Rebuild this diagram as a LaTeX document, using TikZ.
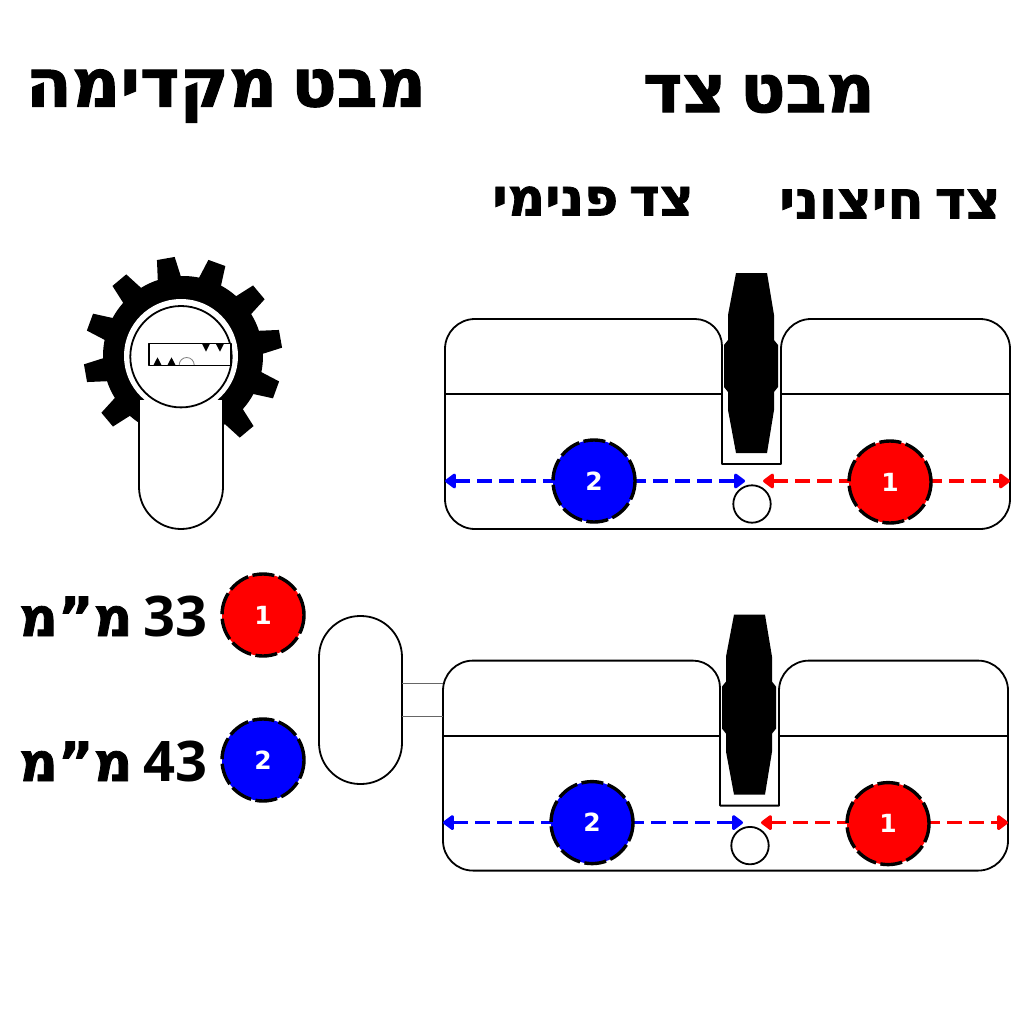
\documentclass[tikz,border=0pt]{standalone}
\usepackage{fontspec}
\usetikzlibrary{arrows.meta}
\TeXXeTstate=1
\newfontfamily\hebfont[Script=Hebrew,WordSpace=0.6,FakeBold=1.5]{DejaVu Sans Bold}
\newfontfamily\numfont{Open Sans Bold}
\newfontfamily\tagfont{DejaVu Sans Bold}

\tikzset{
  outline/.style={draw=black,line width=1.8pt,line join=round},
  size/.style={circle,minimum size=82pt,inner sep=0pt,text=white,font=\tagfont\fontsize{25}{25}\selectfont,draw=black,line width=3.4pt,dash pattern=on 22pt off 4.5pt},
  sizeone/.style={size,fill=red},
  sizetwo/.style={size,fill=blue},
  span/.style={line width=3.6pt,dash pattern=on 15pt off 7pt,{Triangle[round,length=12pt,width=17pt]}-{Triangle[round,length=12pt,width=17pt]}},
  title/.style={inner sep=0pt,text=black}
}

\newcommand{\lockside}{
%body
\draw[outline,fill=white] (445,394) -- (445,349) arc (180:270:30) -- (695,319) arc (270:360:27) -- (722,464) -- (781,464) -- (781,349) arc (180:270:30) -- (980,319) arc (270:360:30) -- (1010,499) arc (0:90:30) -- (475,529) arc (90:180:30) -- cycle;
\draw[outline] (445,394) -- (722,394);
\draw[outline] (781,394) -- (1010,394);
%cam
\fill[black,line join=round] (736,273) -- (767,273) -- (774,315) -- (774,340) -- (778,345) -- (778,387) -- (774,392) -- (774,410) -- (767,453) -- (736,453) -- (728,410) -- (728,392) -- (724,387) -- (724,345) -- (728,340) -- (728,315) -- cycle;
%pin
\draw[outline] (752,504) circle (18.7);
%ranges
\coordinate (bl) at (445,481);
\coordinate (br) at (745,481);
\coordinate (rl) at (763,481);
\coordinate (rr) at (1010,481);
\draw[span,blue] (bl) -- (br);
\draw[span,red] (rl) -- (rr);
\node[sizetwo] (two) at (594,481) {\raisebox{-2pt}{2}};
\node[sizeone] (one) at (890,482) {\raisebox{-2pt}{1}};
}

\begin{document}
\begin{tikzpicture}[x=1pt,y=-1pt,line cap=butt]
\useasboundingbox (0,0) rectangle (1024,1024);

%titles
\node[title,font=\hebfont\fontsize{67}{67}\selectfont] (front) at (226,96) {\beginR מבט מקדימה\endR};
\node[title,font=\hebfont\fontsize{67}{67}\selectfont] (side) at (759,94) {\beginR מבט צד\endR};
\node[title,font=\hebfont\fontsize{52}{52}\selectfont] (inner) at (593,201) {\beginR צד פנימי\endR};
\node[title,font=\hebfont\fontsize{53}{53}\selectfont] (outer) at (890,204) {\beginR צד חיצוני\endR};

%gear
\fill[black] (183,356) circle (80);
\foreach \a in {10,40,...,340}
  \fill[black,rotate around={\a:(183,356)}] (252,343) -- (282,347) -- (282,365) -- (252,369) -- cycle;
\fill[white] (181,356) circle (57);

%front body
\draw[outline,fill=white] (139,400) -- (139,487) arc (180:0:42) -- (223,400);
\draw[outline] (181,356.7) circle (50.7);
\draw[outline,fill=white] (149,343.5) rectangle (231,365.5);
\fill[black] (153.3,365.5) -- (157.5,357.3) -- (161.7,365.5) -- cycle;
\fill[black] (167.3,365.5) -- (171.5,357.3) -- (175.7,365.5) -- cycle;
\fill[black] (202,343.5) -- (206,351.7) -- (210,343.5) -- cycle;
\fill[black] (215.7,343.5) -- (220,351.7) -- (224,343.5) -- cycle;
\draw[gray,line width=.8pt] (179.2,365) arc (180:360:7.5);

%top side view
\begin{scope}[name prefix=upper-]
\lockside
\end{scope}

%lower side view with knob
\begin{scope}[name prefix=lower-,xshift=-2pt,yshift=-341.6pt]
\lockside
\end{scope}
\draw[rounded corners=41pt,outline,fill=white] (319,616) rectangle (402,784);
\coordinate (stema) at (402,683.5);
\coordinate (stemb) at (402,716.5);
\draw[black!60,line width=1.5pt] (stema) -- (443,683.5);
\draw[black!60,line width=1.5pt] (stemb) -- (443,716.5);

%legend
\node[sizeone] (keyone) at (263,615) {\raisebox{-2pt}{1}};
\node[sizetwo] (keytwo) at (263,760) {\raisebox{-2pt}{2}};
\node[title,anchor=east,font=\hebfont\fontsize{54}{54}\selectfont] (lenone) at (208,616) {\beginR {\numfont\fontsize{56}{56}\selectfont\beginL 33\endL} מ”מ\endR};
\node[title,anchor=east,font=\hebfont\fontsize{54}{54}\selectfont] (lentwo) at (208,761) {\beginR {\numfont\fontsize{56}{56}\selectfont\beginL 43\endL} מ”מ\endR};
\end{tikzpicture}
\end{document}
